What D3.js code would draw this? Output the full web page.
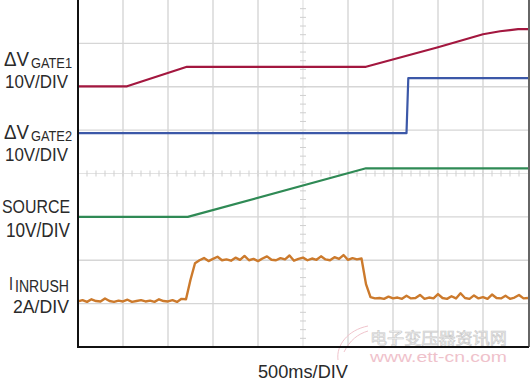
<!DOCTYPE html>
<html><head><meta charset="utf-8">
<script src="https://cdn.jsdelivr.net/npm/d3@7"></script>
<style>
html,body{margin:0;padding:0;background:#fff;}
svg{display:block;}
</style></head>
<body>
<svg id="c" width="530" height="385"></svg>
<script>
// ---- data (time in ms, vertical in screen divisions) ----
const timeDomain = [0, 5000];          // 10 div x 500ms
const divDomain = [0, 8];              // 8 vertical divisions
const xDivs = [0,1,2,3,4,5,6,7,8,9,10];
const yDivs = [0,1,2,3,4,5,6,7,8];

const gate1 = [[0,6.01],[545,6.01],[1210,6.46],[3200,6.46],[4000,6.91],[4500,7.21],[4690,7.28],[4890,7.33],[5000,7.33]];
const gate2 = [[0,4.93],[3650,4.93],[3670,6.20],[5000,6.20]];
const source = [[0,3.0],[1220,3.0],[3200,4.12],[5000,4.12]];
const inrushStep = 50; // ms per sample
const inrush = [
 1.05,1.08,1.04,1.10,1.06,1.05,1.12,1.06,1.04,1.07,1.05,1.09,1.04,1.06,1.08,1.05,1.07,1.04,1.10,1.06,1.05,1.08,1.04,1.11,
 1.10,1.55,1.93,
 2.00,2.05,1.98,2.03,2.08,2.00,2.02,1.99,2.06,2.01,2.10,2.00,2.03,1.98,2.04,2.09,2.01,2.00,2.05,2.02,2.11,1.99,2.03,2.06,2.00,2.04,2.01,2.09,2.02,2.00,2.07,2.03,2.12,2.01,2.05,2.02,
 2.04,1.45,
 1.15,1.12,1.13,1.11,1.16,1.12,1.14,1.11,1.18,1.12,1.13,1.20,1.11,1.14,1.12,1.22,1.13,1.11,1.17,1.12,1.24,1.13,1.11,1.19,1.12,1.15,1.11,1.21,1.13,1.12,1.18,1.11,1.14,1.20,1.12,1.13
];

const svg = d3.select("#c");
const L = 78, R = 528, T = 0, B = 347;
const x = d3.scaleLinear().domain(timeDomain).range([L, R]);
const y = d3.scaleLinear().domain(divDomain).range([B, T]);

// grid
const grid = svg.append("g");
grid.selectAll("line.v").data(xDivs.filter(d => d>0 && d<10 && d!==5)).enter().append("line")
  .attr("x1", d => x(d*500)).attr("x2", d => x(d*500)).attr("y1", T).attr("y2", B)
  .attr("stroke", "#d6d6d6").attr("stroke-width", 1.4);
grid.selectAll("line.h").data(yDivs.filter(d => d>0 && d<8 && d!==4)).enter().append("line")
  .attr("x1", L).attr("x2", R).attr("y1", d => y(d)).attr("y2", d => y(d))
  .attr("stroke", "#d6d6d6").attr("stroke-width", 1.4);
// center lines with minor ticks
const cx = x(2500), cy = y(4);
grid.append("line").attr("x1", cx).attr("x2", cx).attr("y1", T).attr("y2", B).attr("stroke", "#e2e2e2").attr("stroke-width", 1.2);
grid.append("line").attr("x1", L).attr("x2", R).attr("y1", cy).attr("y2", cy).attr("stroke", "#e2e2e2").attr("stroke-width", 1.2);
const minorX = d3.range(1, 50).map(i => i*100);
const minorY = d3.range(1, 40).map(i => i*0.2);
grid.selectAll("line.mx").data(minorX).enter().append("line")
  .attr("x1", d => x(d)).attr("x2", d => x(d)).attr("y1", cy-3).attr("y2", cy+3)
  .attr("stroke", "#cfcfcf").attr("stroke-width", 1);
grid.selectAll("line.my").data(minorY).enter().append("line")
  .attr("x1", cx-3).attr("x2", cx+3).attr("y1", d => y(d)).attr("y2", d => y(d))
  .attr("stroke", "#cfcfcf").attr("stroke-width", 1);

// watermark
const wm = svg.append("g");
wm.append("path").attr("d", "M338,360 C336,345 348,330 368,326 M344,352 C350,340 358,334 368,331")
  .attr("fill","none").attr("stroke","#f0c4cc").attr("stroke-width",1);
wm.append("text").attr("x", 370).attr("y", 344).attr("font-size", 16)
  .attr("font-family", "Noto Sans CJK SC").attr("fill", "#f4f4f4").attr("stroke", "#c9c9c9").attr("stroke-width", 0.6)
  .attr("textLength", 137).attr("lengthAdjust", "spacingAndGlyphs").text("电子变压器资讯网");
wm.append("text").attr("x", 370).attr("y", 362).attr("font-size", 15)
  .attr("font-family", "Liberation Sans, Arial, sans-serif").attr("fill", "#efc2cb")
  .attr("textLength", 137).attr("lengthAdjust", "spacingAndGlyphs").text("www.ett-cn.com");

// traces
const line = d3.line().x(d => x(d[0])).y(d => y(d[1]));
const tr = svg.append("g").attr("fill", "none").attr("stroke-linejoin", "round");
tr.append("path").datum(gate1).attr("d", line).attr("stroke", "#a3173f").attr("stroke-width", 2.2);
tr.append("path").datum(gate2).attr("d", line).attr("stroke", "#3c58a8").attr("stroke-width", 2.2);
tr.append("path").datum(source).attr("d", line).attr("stroke", "#2f8a55").attr("stroke-width", 2.2);
tr.append("path").datum(inrush.map((v, i) => [i*inrushStep, v])).attr("d", line)
  .attr("stroke", "#cc7a2c").attr("stroke-width", 2.4);

// frame
svg.append("line").attr("x1", L).attr("x2", L).attr("y1", T).attr("y2", B+1).attr("stroke", "#111").attr("stroke-width", 2);
svg.append("line").attr("x1", L-1).attr("x2", R+1).attr("y1", B).attr("y2", B).attr("stroke", "#111").attr("stroke-width", 2);
svg.append("line").attr("x1", R+1).attr("x2", R+1).attr("y1", T).attr("y2", B).attr("stroke", "#333").attr("stroke-width", 1.5);

// labels
const F = "'Liberation Sans', Arial, sans-serif";
const lab = svg.append("g").attr("font-family", F).attr("fill", "#2a2a2a");
function t(xp, yp, size, w, s) {
  lab.append("text").attr("x", xp).attr("y", yp).attr("font-size", size)
    .attr("textLength", w).attr("lengthAdjust", "spacingAndGlyphs").text(s);
}
t(4, 66, 20, 25, "ΔV"); t(31, 68, 15, 41, "GATE1");
t(5, 88, 19, 63, "10V/DIV");
t(4, 139, 20, 25, "ΔV"); t(31, 141, 15, 41, "GATE2");
t(5, 161, 19, 63, "10V/DIV");
t(2, 213, 19, 68, "SOURCE");
t(6, 237, 19.5, 64, "10V/DIV");
t(9, 290, 19, 4, "I"); t(15, 292, 16, 54, "INRUSH");
t(13, 313, 18.5, 56, "2A/DIV");
t(258, 378, 18.5, 90, "500ms/DIV");
</script>
</body></html>
